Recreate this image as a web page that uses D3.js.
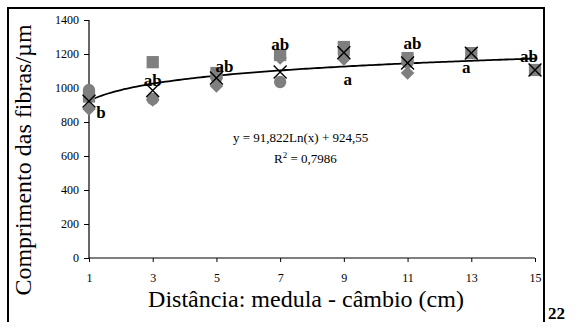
<!DOCTYPE html>
<html>
<head>
<meta charset="utf-8">
<script src="https://cdn.jsdelivr.net/npm/d3@7"></script>
<style>
  html, body { margin: 0; padding: 0; background: #fff; }
  svg { display: block; }
</style>
</head>
<body>
<svg id="chart" width="576" height="322"></svg>
<script>
// Distance from pith to cambium (cm)
const distances = [1, 3, 5, 7, 9, 11, 13, 15];
const xTicks = [1, 3, 5, 7, 9, 11, 13, 15];
const yTicks = [0, 200, 400, 600, 800, 1000, 1200, 1400];

// Fibre length (µm) per tree / sample
const seriesDiamond = [876, 930, 1012, 1176, 1170, 1088, null, null];
const seriesSquare  = [950, 1152, 1088, 1194, 1241, 1176, 1205, 1106];
const seriesCircle  = [988, 935, 1060, 1035, 1200, 1150, null, null];
const seriesMean    = [923, 985, 1059, 1094, 1208, 1147, 1205, 1106];

// Tukey grouping letters at each position
const groupLetters = ["b", "ab", "ab", "ab", "a", "ab", "a", "ab"];

// Logarithmic trend y = a·ln(x) + b
const trendA = 91.822;
const trendB = 924.55;
const r2 = "0,7986";

const FONT = "Liberation Serif";
const svg = d3.select("#chart");

const plot = { left: 89, right: 535, top: 20, bottom: 258 };

const x = d3.scaleLinear().domain([1, 15]).range([plot.left, plot.right]);
const y = d3.scaleLinear().domain([0, 1400]).range([plot.bottom, plot.top]);

// outer frame (open at the bottom)
svg.append("path")
  .attr("d", "M8,322 L8,8 L544,8 L544,322")
  .attr("fill", "none")
  .attr("stroke", "#000")
  .attr("stroke-width", 2);

// axes
const xAxis = svg.append("g")
  .attr("transform", `translate(0,${plot.bottom})`)
  .call(d3.axisBottom(x).tickValues(xTicks).tickSize(4).tickPadding(11.5).tickFormat(d3.format("d")));
const yAxis = svg.append("g")
  .attr("transform", `translate(${plot.left},0)`)
  .call(d3.axisLeft(y).tickValues(yTicks).tickSize(5).tickPadding(5).tickFormat(d3.format("d")));

[xAxis, yAxis].forEach(g => {
  g.attr("font-family", FONT).attr("font-size", 12);
  g.select(".domain").attr("stroke", "#000").attr("stroke-width", 1.2);
  g.selectAll(".tick line").attr("stroke", "#000").attr("stroke-width", 1);
  g.selectAll(".tick text").attr("fill", "#000");
});
xAxis.select(".domain").attr("d", `M${plot.left},0H${plot.right}`);
yAxis.select(".domain").attr("d", `M0,${plot.bottom}V${plot.top}`);

// axis titles
svg.append("text")
  .attr("x", 306)
  .attr("y", 306.5)
  .attr("text-anchor", "middle")
  .attr("font-family", FONT)
  .attr("font-size", 24)
  .text("Distância: medula - câmbio (cm)");

svg.append("text")
  .attr("transform", "translate(31,160) rotate(-90)")
  .attr("text-anchor", "middle")
  .attr("font-family", FONT)
  .attr("font-size", 24)
  .text("Comprimento das fibras/µm");

// trend line
const trendPts = d3.range(1, 15.001, 0.1).map(v => [v, trendA * Math.log(v) + trendB]);
svg.append("path")
  .datum(trendPts)
  .attr("d", d3.line().x(d => x(d[0])).y(d => y(d[1])))
  .attr("fill", "none")
  .attr("stroke", "#000")
  .attr("stroke-width", 1.8);

// markers
const grey = "#7f7f7f";
function drawSeries(values, type, size, rotate, style) {
  const pts = distances.map((d, i) => ({ d, v: values[i] })).filter(p => p.v != null);
  svg.append("g").selectAll("path")
    .data(pts)
    .join("path")
    .attr("transform", p => `translate(${x(p.d)},${y(p.v)}) rotate(${rotate})`)
    .attr("d", d3.symbol().type(type).size(size))
    .call(style);
}

drawSeries(seriesDiamond, d3.symbolSquare, 92, 45, s => s.attr("fill", grey));
drawSeries(seriesSquare, d3.symbolSquare, 150, 0, s => s.attr("fill", grey));
drawSeries(seriesCircle, d3.symbolCircle, 120, 0, s => s.attr("fill", grey));
drawSeries(seriesMean, d3.symbolX, 110, 0, s => s.attr("fill", "none").attr("stroke", "#000").attr("stroke-width", 1.4));

// grouping letters, placed beside each mean marker
const letterOffsets = [[12, 17], [0, -5], [8, -6], [0, -22], [4, 32], [5, -14], [-5, 20], [-6, -8]];
svg.append("g").selectAll("text")
  .data(groupLetters)
  .join("text")
  .attr("x", (t, i) => x(distances[i]) + letterOffsets[i][0])
  .attr("y", (t, i) => y(seriesMean[i]) + letterOffsets[i][1])
  .attr("text-anchor", "middle")
  .attr("font-family", FONT)
  .attr("font-size", 17)
  .attr("font-weight", "bold")
  .text(t => t);

// regression equation
svg.append("text")
  .attr("x", 233)
  .attr("y", 142)
  .attr("font-family", FONT)
  .attr("font-size", 13)
  .text(`y = ${d3.format(",.3f")(trendA).replace(".", ",")}Ln(x) + ${String(trendB).replace(".", ",")}`);

const r2Text = svg.append("text")
  .attr("x", 274)
  .attr("y", 163)
  .attr("font-family", FONT)
  .attr("font-size", 13);
r2Text.append("tspan").text("R");
r2Text.append("tspan").attr("dy", -5).attr("font-size", 9).text("2");
r2Text.append("tspan").attr("dy", 5).text(` = ${r2}`);

// page number
svg.append("text")
  .attr("x", 548)
  .attr("y", 319)
  .attr("font-family", FONT)
  .attr("font-size", 17)
  .attr("font-weight", "bold")
  .text("22");
</script>
</body>
</html>
